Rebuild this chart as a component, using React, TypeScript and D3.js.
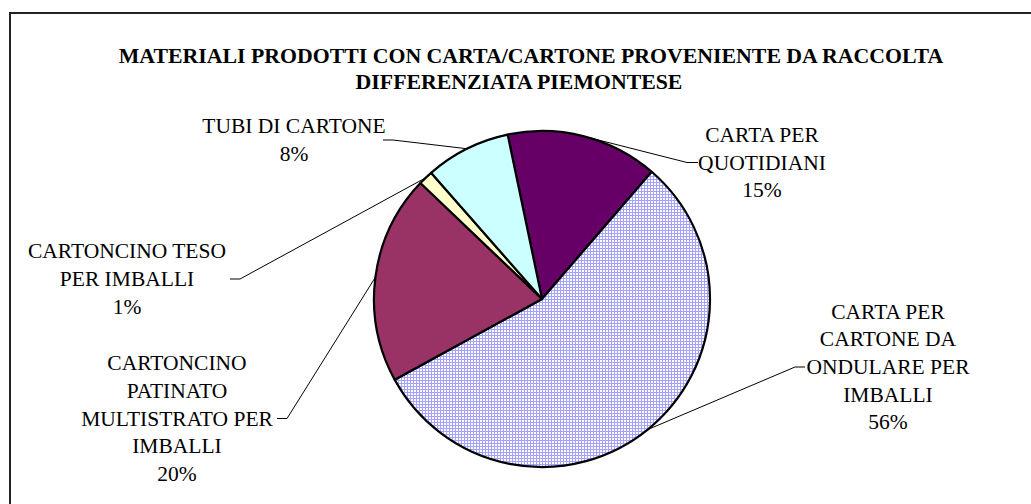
import React from "react";
import * as d3 from "d3";

const titleLines = [
  "MATERIALI PRODOTTI CON CARTA/CARTONE PROVENIENTE DA RACCOLTA",
  "DIFFERENZIATA PIEMONTESE",
];

const categories = [
  "CARTA PER QUOTIDIANI",
  "CARTA PER CARTONE DA ONDULARE PER IMBALLI",
  "CARTONCINO PATINATO MULTISTRATO PER IMBALLI",
  "CARTONCINO TESO PER IMBALLI",
  "TUBI DI CARTONE",
];

const labelLines = [
  ["CARTA PER", "QUOTIDIANI"],
  ["CARTA PER", "CARTONE DA", "ONDULARE PER", "IMBALLI"],
  ["CARTONCINO", "PATINATO", "MULTISTRATO PER", "IMBALLI"],
  ["CARTONCINO TESO", "PER IMBALLI"],
  ["TUBI DI CARTONE"],
];

const values = [14.6, 55.7, 20.1, 1.4, 8.2];

const fills = ["#660066", "url(#gridPattern)", "#993366", "#FFFFCC", "#CCFFFF"];

// label layout: centre x, middle y of text block, leader attach x, elbow x
const labelLayout = [
  { cx: 762, cy: 162.5, attachX: 698, elbowX: 687 },
  { cx: 888, cy: 367, attachX: 805, elbowX: 795 },
  { cx: 177, cy: 418.5, attachX: 277, elbowX: 287 },
  { cx: 127, cy: 279, attachX: 230, elbowX: 240 },
  { cx: 294, cy: 140, attachX: 383, elbowX: 393 },
];

const W = 1031;
const H = 504;
const CX = 542;
const CY = 299;
const R = 168;
const LINE_H = 27.6;
const START = (-11.8 * Math.PI) / 180;
const FONT = "Liberation Serif, DejaVu Serif, Times New Roman, serif";

export default function App() {
  const total = d3.sum(values);
  const pie = d3
    .pie<number>()
    .sort(null)
    .value((d) => d)
    .startAngle(START)
    .endAngle(START + 2 * Math.PI);
  const arcs = pie(values);
  const arc = d3.arc<d3.PieArcDatum<number>>().innerRadius(0).outerRadius(R);
  const pct = d3.format(".0%");

  return (
    <svg
      width={W}
      height={H}
      style={{ position: "absolute", left: 0, top: 0, background: "#fff", fontFamily: FONT }}
    >
      <defs>
        <pattern id="gridPattern" patternUnits="userSpaceOnUse" width={3} height={3}>
          <rect width={3} height={3} fill="#ffffff" />
          <path d="M0 0.5H3M0.5 0V3" stroke="#a3a3ff" strokeWidth={1} />
        </pattern>
      </defs>
      <rect x={0} y={0} width={W} height={H} fill="#fff" />
      <rect x={10} y={13} width={W + 20} height={H + 20} fill="none" stroke="#222" strokeWidth={2} />

      <g fontWeight="bold" fontSize={21.8} textAnchor="middle" fill="#000" style={{ fontFamily: FONT }}>
        <text x={531} y={63}>{titleLines[0]}</text>
        <text x={519} y={89}>{titleLines[1]}</text>
      </g>

      <g transform={`translate(${CX},${CY})`}>
        {arcs.map((a, i) => (
          <path key={categories[i]} d={arc(a) || ""} fill={fills[i]} stroke="#000" strokeWidth={2.2} strokeLinejoin="round" />
        ))}
      </g>

      <g fill="none" stroke="#000" strokeWidth={1}>
        {arcs.map((a, i) => {
          const mid = (a.startAngle + a.endAngle) / 2;
          const sx = CX + R * Math.sin(mid);
          const sy = CY - R * Math.cos(mid);
          const L = labelLayout[i];
          const line = d3.line()([
            [sx, sy],
            [L.elbowX, L.cy],
            [L.attachX, L.cy],
          ]);
          return <path key={categories[i]} d={line || ""} />;
        })}
      </g>

      <g fontSize={21.5} textAnchor="middle" fill="#000" style={{ fontFamily: FONT }}>
        {arcs.map((a, i) => {
          const L = labelLayout[i];
          const lines = [...labelLines[i], pct(values[i] / total)];
          const n = lines.length;
          return (
            <text key={categories[i]}>
              {lines.map((t, j) => (
                <tspan key={j} x={L.cx} y={L.cy + (j - (n - 1) / 2) * LINE_H} dominantBaseline="central">
                  {t}
                </tspan>
              ))}
            </text>
          );
        })}
      </g>
    </svg>
  );
}
